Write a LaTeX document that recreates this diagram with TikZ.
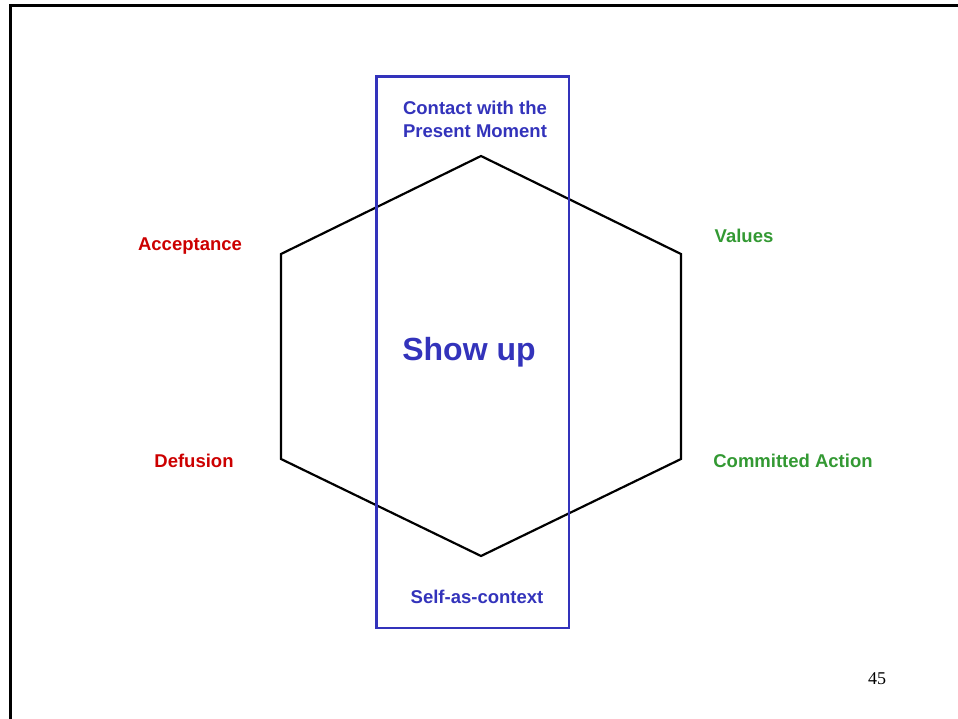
\documentclass[tikz,border=0pt]{standalone}
\usepackage{fontspec}
\setmainfont{Liberation Sans}
\newfontfamily\serifnum{Liberation Serif}
\definecolor{actblue}{RGB}{51,51,187}
\definecolor{actred}{RGB}{204,0,0}
\definecolor{actgreen}{RGB}{51,153,51}
\tikzset{
  lbl/.style={anchor=base, inner sep=0pt, font=\bfseries\fontsize{18.5}{22}\selectfont},
  redlbl/.style={lbl, text=actred},
  greenlbl/.style={lbl, text=actgreen},
  bluelbl/.style={lbl, text=actblue},
  hexline/.style={draw=black, line width=2.2pt, line join=miter},
  bluebox/.style={draw=actblue, line width=2.5pt},
  frameline/.style={draw=black, line width=2.2pt}
}
\begin{document}
\begin{tikzpicture}[x=1pt,y=-1pt]
\useasboundingbox (0,0) rectangle (958,719);
% slide frame
\draw[frameline] (10.5,719) -- (10.5,5.5) -- (958,5.5);
% hexagon
\coordinate (htop) at (481,156);
\coordinate (hur) at (681,254);
\coordinate (hlr) at (681,459);
\coordinate (hbot) at (481,556);
\coordinate (hll) at (281,459);
\coordinate (hul) at (281,254);
\draw[hexline] (htop) -- (hur) -- (hlr) -- (hbot) -- (hll) -- (hul) -- cycle;
% blue box
\coordinate (bnw) at (376.5,76.5);
\coordinate (bse) at (569,628);
\draw[bluebox] (bnw) rectangle (bse);
% labels
\node[bluelbl] (contact1) at (475,115) {Contact with the};
\node[bluelbl] (contact2) at (475,138) {Present Moment};
\node[bluelbl] (self) at (477,603) {Self-as-context};
\node[anchor=base, inner sep=0pt, text=actblue, font=\bfseries\fontsize{32}{38}\selectfont] (showup) at (469,360) {Show up};
\node[redlbl] (accept) at (190,251) {Acceptance};
\node[redlbl] (defusion) at (194,467) {Defusion};
\node[greenlbl] (values) at (744,243) {Values};
\node[greenlbl] (committed) at (793,467) {Committed Action};
\node[anchor=base, inner sep=0pt, font=\serifnum\fontsize{18}{22}\selectfont] (pagenum) at (877,684) {45};
\end{tikzpicture}
\end{document}
